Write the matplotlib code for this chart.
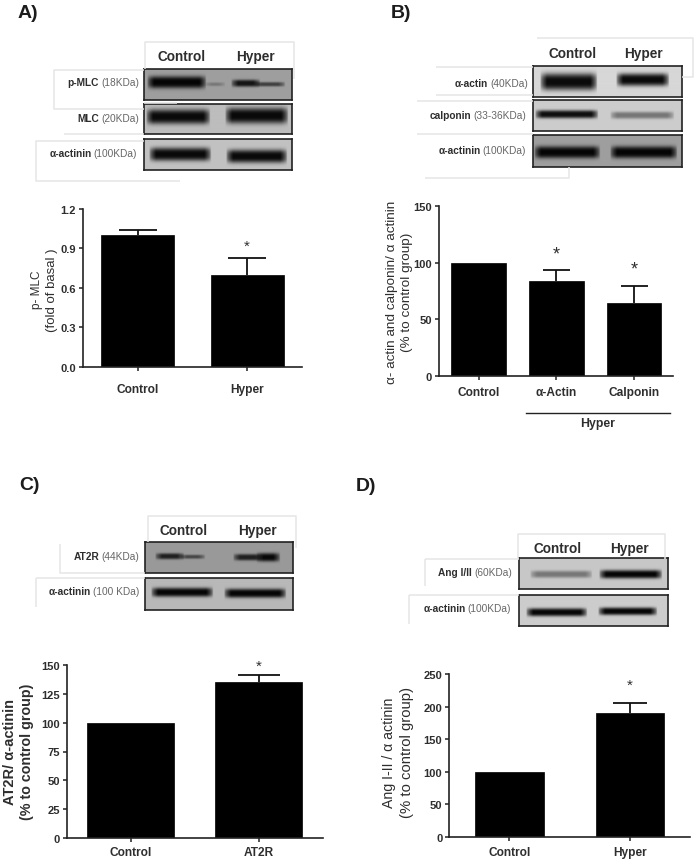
import numpy as np
import matplotlib
matplotlib.use("Agg")
import matplotlib.pyplot as plt

plt.rcParams['font.family'] = ['Liberation Sans', 'DejaVu Sans']

W, H = 697, 862
TXT = '#2e2e2e'
EDGE = '#e6e6e6'

# panel A
a_names = ['Control', 'Hyper']
a_vals = [1.0, 0.70]
a_errs = [0.038, 0.13]
a_ticks = [0.0, 0.3, 0.6, 0.9, 1.2]
a_ticklabels = ['0.0', '0.3', '0.6', '0.9', '1.2']

# panel B
b_names = ['Control', 'α-Actin', 'Calponin']
b_vals = [100, 83.5, 64]
b_errs = [0, 10, 15.5]
b_ticks = [0, 50, 100, 150]

# panel C
c_names = ['Control', 'AT2R']
c_vals = [100, 135.5]
c_errs = [0, 6]
c_ticks = [0, 25, 50, 75, 100, 125, 150]

# panel D
d_names = ['Control', 'Hyper']
d_vals = [100, 190]
d_errs = [0, 15.5]
d_ticks = [0, 50, 100, 150, 200, 250]


def make_axes(fig, x0, x1, ytop, y0):
    return fig.add_axes([x0 / W, 1 - y0 / H, (x1 - x0) / W, (y0 - ytop) / H])


def bar_panel(fig, box, names, vals, errs, ticks, ymax, xlim, width, cap, pad, fs=8.0, labels=None):
    ax = make_axes(fig, *box)
    x = np.arange(len(names))
    ax.bar(x, vals, width=width, color='black', edgecolor='black', linewidth=0.5, zorder=2)
    for i in range(len(vals)):
        if errs[i] > 0:
            top = vals[i] + errs[i]
            ax.vlines(x[i], vals[i], top, color='#111111', lw=1.3, zorder=1)
            ax.hlines(top, x[i] - cap, x[i] + cap, color='#111111', lw=1.3, zorder=1)
    ax.set_xlim(*xlim)
    ax.set_ylim(0, ymax)
    ax.set_xticks(x)
    ax.set_xticklabels(names, fontsize=8.6, color=TXT, fontweight='bold')
    ax.set_yticks(ticks)
    if labels is not None:
        ax.set_yticklabels(labels)
    ax.tick_params(axis='y', labelsize=fs, labelcolor=TXT, length=3, width=1.1, pad=2, color='#222222')
    ax.tick_params(axis='x', length=3, width=1.1, pad=pad, color='#222222')
    for s in ['top', 'right']:
        ax.spines[s].set_visible(False)
    for s in ['left', 'bottom']:
        ax.spines[s].set_linewidth(1.2)
        ax.spines[s].set_color('#222222')
    for t in ax.get_yticklabels():
        t.set_fontweight('bold')
    ax.patch.set_alpha(0)
    return ax


def blot(fig, x0, x1, y0, y1, bg, bands):
    # bands: (left, right, centre y, half height, darkness), all in figure pixels
    xs = np.arange(x0, x1, 0.5)
    ys = np.arange(y0, y1, 0.5)
    xx, yy = np.meshgrid(xs, ys)
    img = np.full(xx.shape, bg, dtype=float)
    for left, right, yc, hh, dark in bands:
        ends = np.clip((xx - left) / 7, 0, 1) * np.clip((right - xx) / 7, 0, 1)
        ends = np.sqrt(ends)
        core = np.exp(-(np.abs(yy - yc) / hh) ** 3)
        img = img * (1 - dark * core * ends)
    ax = make_axes(fig, x0, x1, y0, y1)
    ax.imshow(img, cmap='gray', vmin=0, vmax=1, aspect='auto', interpolation='bilinear')
    ax.set_xticks([])
    ax.set_yticks([])
    for s in ax.spines.values():
        s.set_linewidth(1.2)
        s.set_color('#222222')
    return ax


fig = plt.figure(figsize=(W / 100, H / 100), dpi=100)

# overlay in pixel coordinates for the annotation text and pale frame lines
ov = fig.add_axes([0, 0, 1, 1], zorder=5)
ov.set_xlim(0, W)
ov.set_ylim(H, 0)
ov.axis('off')
ov.patch.set_alpha(0)


def pale(*segs):
    for xs, ys in segs:
        ov.plot(xs, ys, color=EDGE, lw=1.1, solid_capstyle='butt')


def blot_label(x, y, name, kda, fs=7.3):
    t = ov.text(x, y, kda, ha='right', va='center', fontsize=fs, color='#666666')
    fig.canvas.draw()
    left = t.get_window_extent().x0
    ov.annotate(name, xy=(left - 2, H - y), xycoords='figure pixels', ha='right', va='center',
                fontsize=fs, color=TXT, fontweight='bold')


def header(x1, x2, y, fs=9.8):
    ov.text(x1, y, 'Control', ha='center', va='center', fontsize=fs, color=TXT, fontweight='bold')
    ov.text(x2, y, 'Hyper', ha='center', va='center', fontsize=fs, color=TXT, fontweight='bold')


def star(x, y, fs=11):
    ov.text(x, y + 3, '*', ha='center', va='center', fontsize=fs, color=TXT)


def ylab(x, y, s, fs=8, bold=False):
    ov.text(x, y, s, ha='center', va='center', rotation=90, fontsize=fs, color=TXT,
            fontweight='bold' if bold else 'normal')


for s, x, y in [('A)', 18, 13), ('B)', 391, 13), ('C)', 19, 486), ('D)', 356, 487)]:
    ov.text(x, y, s, ha='left', va='center', fontsize=14, color='#1c1c1c', fontweight='bold')

# ---- A
pale(([145, 145, 294, 294], [70, 43, 43, 80]),
     ([144, 54, 54, 144], [71, 71, 110, 110]),
     ([144, 177], [104, 104]),
     ([64, 144], [135, 135]),
     ([144, 36, 36, 180], [142, 142, 182, 182]))
header(182, 255, 57)
blot(fig, 144, 292, 70, 101, 0.62, [(147, 206, 83, 6, 0.97), (205, 225, 85, 1.8, 0.25),
                                   (231, 260, 84, 3.5, 0.88), (254, 285, 85, 2.2, 0.6)])
blot(fig, 144, 292, 105, 135, 0.74, [(146, 210, 118, 7, 0.95), (225, 288, 117, 7.5, 0.95)])
blot(fig, 144, 292, 140, 171, 0.76, [(149, 211, 155, 6.5, 0.95), (226, 287, 157, 6.5, 0.95)])
blot_label(139, 83, 'p-MLC', '(18KDa)')
blot_label(139, 119, 'MLC', '(20KDa)')
blot_label(137, 154, 'α-actinin', '(100KDa)')
bar_panel(fig, (83, 302, 210, 367.7), a_names, a_vals, a_errs, a_ticks, 1.2, (-0.5, 1.5), 0.67, 0.175, 8.5,
          labels=a_ticklabels)
ylab(37, 290, 'p- MLC', 8.5)
ylab(52, 290, '(fold of basal )', 9.5)
star(247, 244)

# ---- B
pale(([537, 693, 693, 682], [39, 39, 78, 78]),
     ([436, 533], [68, 68]), ([436, 533], [96, 96]),
     ([417, 533], [102, 102]), ([417, 533], [135, 135]),
     ([425, 569, 569], [179, 179, 168]))
header(573, 643, 54)
blot(fig, 533, 682, 67, 98, 0.84, [(540, 597, 83, 8, 0.95), (616, 669, 81, 6, 0.95)])
blot(fig, 533, 682, 101, 132, 0.80, [(535, 598, 115, 4, 0.93), (610, 674, 116, 3.5, 0.42)])
blot(fig, 533, 682, 136, 168, 0.62, [(534, 600, 153, 6, 0.97), (610, 677, 153, 6, 0.97)])
blot_label(528, 84, 'α-actin', '(40KDa)')
blot_label(526, 116, 'calponin', '(33-36KDa)')
blot_label(526, 151, 'α-actinin', '(100KDa)')
bar_panel(fig, (439, 673, 207, 377), b_names, b_vals, b_errs, b_ticks, 150, (-0.51, 2.5), 0.70, 0.175, 4.4)
ylab(392, 292, 'α- actin and calponin/ α actinin', 9.7)
ylab(407, 292, '(% to control group)', 9.7)
star(556, 252, 13)
star(634, 267, 13)
ov.plot([525.7, 670], [414, 414], color='#222222', lw=1)
ov.text(598, 424, 'Hyper', ha='center', va='center', fontsize=8.8, color=TXT, fontweight='bold')

# ---- C
pale(([148, 148, 296, 296], [543, 517, 517, 549]),
     ([60, 60, 145], [545, 574, 574]),
     ([36, 145], [579, 579]), ([36, 36], [579, 608]))
header(184, 257, 531)
blot(fig, 145, 293, 543, 574, 0.60, [(155, 184, 557, 3, 0.8), (180, 205, 557.5, 2, 0.55),
                                    (233, 262, 558, 3.2, 0.8), (256, 280, 558, 4.2, 0.95)])
blot(fig, 145, 293, 579, 611, 0.72, [(151, 213, 593, 4.5, 0.97), (224, 286, 594, 4.5, 0.97)])
blot_label(139, 557, 'AT2R', '(44KDa)')
blot_label(139, 592, 'α-actinin', '(100 KDa)')
bar_panel(fig, (66.7, 323, 666, 839), c_names, c_vals, c_errs, c_ticks, 150, (-0.5, 1.5), 0.68, 0.165, 3)
ylab(10, 752, 'AT2R/ α-actinin', 10.5, True)
ylab(27, 752, '(% to control group)', 10.3, True)
star(259, 664)

# ---- D
pale(([518, 518, 665, 665], [560, 535, 535, 560]),
     ([425, 425], [587, 560]), ([425, 519], [560, 560]),
     ([409, 519], [596, 596]), ([409, 409], [596, 625]))
header(558, 629, 549)
blot(fig, 519, 668, 559, 590, 0.78, [(530, 592, 575, 3.5, 0.4), (599, 662, 575, 4.2, 0.97)])
blot(fig, 519, 668, 596, 627, 0.80, [(526, 587, 613, 4, 0.97), (598, 657, 612, 3.8, 0.97)])
blot_label(512, 573, 'Ang I/II', '(60KDa)')
blot_label(511, 609, 'α-actinin', '(100KDa)')
bar_panel(fig, (449.3, 690, 675, 837.7), d_names, d_vals, d_errs, d_ticks, 250, (-0.5, 1.5), 0.57, 0.14, 3.8)
ylab(389, 753, 'Ang I-II / α actinin', 10.2)
ylab(407, 753, '(% to control group)', 10.7)
star(630, 683)

fig.savefig('out.png', dpi=100)
